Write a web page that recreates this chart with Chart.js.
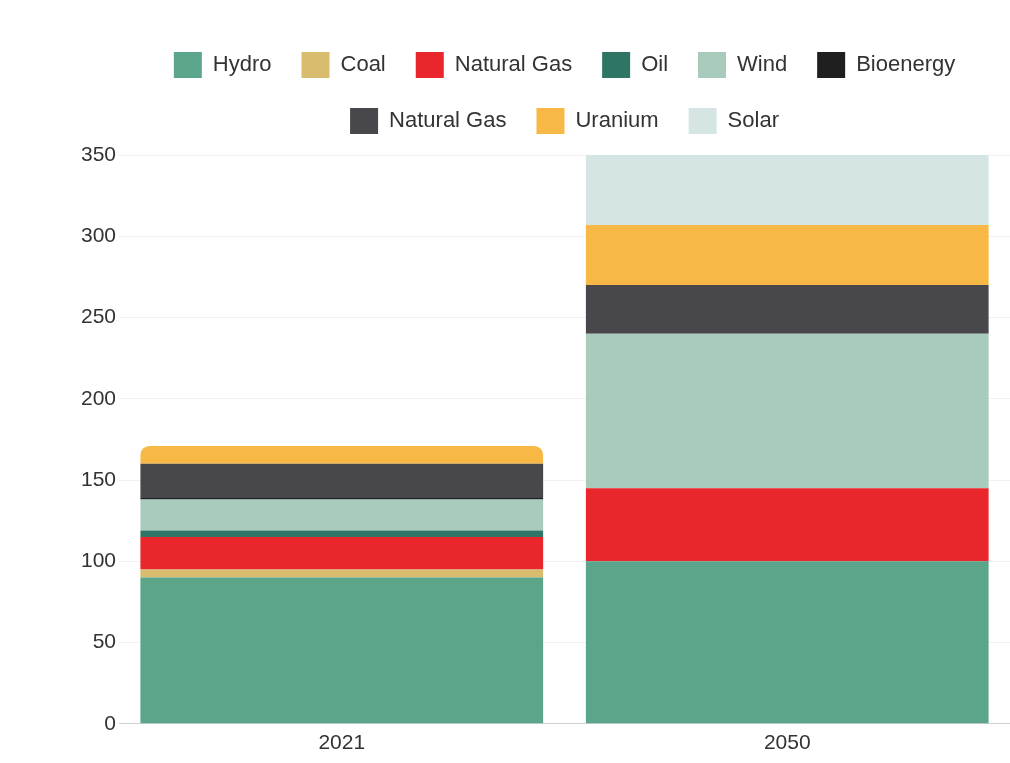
<!DOCTYPE html>
<html>
<head>
<meta charset="utf-8">
<script src="https://cdn.jsdelivr.net/npm/chart.js@4.4.1/dist/chart.umd.min.js"></script>
<style>
  html, body { margin: 0; padding: 0; background: #fff; overflow: hidden; }
  #wrap { width: 1010px; height: 763px; position: relative; }
</style>
</head>
<body>
<div id="wrap"><canvas id="energyMix"></canvas></div>
<script>
// categories and series
const years = ["2021", "2050"];
const hydro = [90, 100];
const coal = [5, 0];
const naturalGas = [20, 45];
const oil = [4, 0];
const wind = [19, 95];
const bioenergy = [1, 0];
const naturalGas2 = [21, 30];
const uranium = [11, 37];
const solar = [0, 43];
const yTicks = [0, 50, 100, 150, 200, 250, 300, 350];

const seriesNames = ["Hydro", "Coal", "Natural Gas", "Oil", "Wind", "Bioenergy", "Natural Gas", "Uranium", "Solar"];
const seriesData = [hydro, coal, naturalGas, oil, wind, bioenergy, naturalGas2, uranium, solar];
const seriesColors = ["#5ba58b", "#d8bd6e", "#e8262b", "#2f7566", "#a9cbbb", "#1f1f1f", "#48484c", "#f8b846", "#d5e5e3"];

const fontFamily = "'Liberation Sans', Arial, sans-serif";

const datasets = seriesNames.map((name, i) => ({
    label: name,
    data: seriesData[i],
    backgroundColor: seriesColors[i],
    borderWidth: 0,
    barPercentage: 0.904,
    categoryPercentage: 1,
    borderRadius: name === "Uranium"
        ? (ctx => ctx.dataIndex === 0 ? { topLeft: 10, topRight: 10, bottomLeft: 0, bottomRight: 0 } : 0)
        : 0,
    borderSkipped: false
}));

// a bit more room between the legend and the plot
const legendGap = {
    id: "legendGap",
    beforeInit(chart) {
        const fit = chart.legend.fit;
        chart.legend.fit = function () {
            fit.call(this);
            this.height += 11;
        };
    }
};

const ctx = document.getElementById("energyMix").getContext("2d");

new Chart(ctx, {
    type: "bar",
    data: { labels: years, datasets: datasets },
    options: {
        responsive: true,
        maintainAspectRatio: false,
        animation: false,
        layout: { padding: { left: 78, right: 0, top: 22, bottom: 0 } },
        plugins: {
            legend: {
                display: true,
                position: "top",
                fullSize: false,
                labels: {
                    boxWidth: 28,
                    boxHeight: 26,
                    padding: 30,
                    color: "#333",
                    font: { family: fontFamily, size: 22 }
                }
            },
            tooltip: { enabled: false }
        },
        scales: {
            x: {
                stacked: true,
                grid: { display: false, drawTicks: false },
                border: { display: true, color: "#cfcfcf" },
                ticks: {
                    padding: 7,
                    color: "#333",
                    font: { family: fontFamily, size: 21 }
                }
            },
            y: {
                stacked: true,
                min: 0,
                max: yTicks[yTicks.length - 1],
                grid: { color: "#f1f1f1", drawTicks: false },
                border: { display: false },
                afterBuildTicks: axis => { axis.ticks = yTicks.map(v => ({ value: v })); },
                ticks: {
                    padding: 3,
                    color: "#333",
                    font: { family: fontFamily, size: 21 }
                }
            }
        }
    },
    plugins: [legendGap]
});
</script>
</body>
</html>
